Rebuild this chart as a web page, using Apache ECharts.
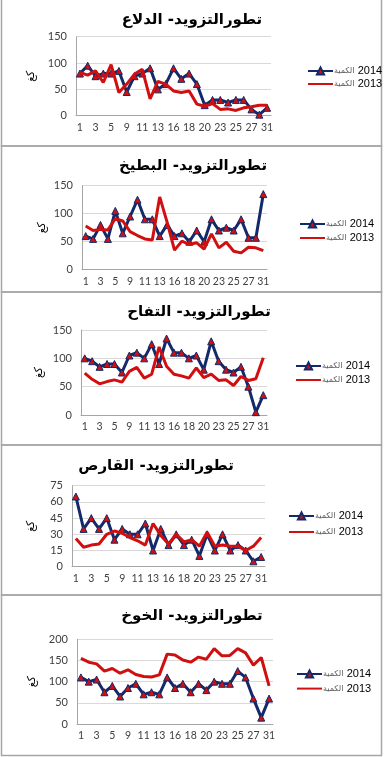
<!DOCTYPE html>
<html><head><meta charset="utf-8">
<script src="https://cdn.jsdelivr.net/npm/echarts@6/dist/echarts.min.js"></script>
<style>html,body{margin:0;padding:0;background:#fff}#c{width:385px;height:757px}</style>
</head><body><div id="c"></div>
<script>
const categories = ['1','2','3','4','5','7','9','10','11','12','13','14','16','17','18','19','20','21','23','24','25','26','27','29','31'];
const titles = ['تطورالتزويد- الدلاع','تطورالتزويد- البطيخ','تطورالتزويد- التفاح','تطورالتزويد- القارص','تطورالتزويد- الخوخ'];
const seriesNames = ['الكمية 2014','الكمية 2013'];
const yUnit = 'كغ';
const yMax = [150,150,150,75,200];
const yInterval = [50,50,50,15,50];

const dala2014 = [80,95,75,80,80,85,45,75,80,90,50,60,90,70,80,60,20,30,30,25,30,30,12,2,15];
const dala2013 = [82,77,85,63,97,44,60,79,88,32,65,60,47,44,47,22,18,23,12,13,10,15,17,20,20];
const batikh2014 = [60,55,80,55,105,65,95,125,90,90,60,80,60,65,50,70,50,90,70,75,70,90,57,57,135];
const batikh2013 = [78,70,72,71,91,87,68,61,55,53,130,85,35,51,45,48,37,64,39,49,33,30,40,39,34];
const tuffah2014 = [100,95,85,90,90,75,105,110,100,125,90,135,110,110,100,105,80,130,95,80,75,85,50,5,35];
const tuffah2013 = [74,63,55,59,62,58,77,84,65,72,120,86,72,69,65,83,66,72,61,62,52,68,61,64,101];
const qaris2014 = [65,35,45,35,45,25,35,30,30,40,15,35,20,30,20,25,10,30,15,30,15,20,15,5,9];
const qaris2013 = [26,18,20,21,30,33,31,27,24,20,40,29,21,30,23,25,19,32,19,20,19,19,15,19,27];
const khukh2014 = [110,100,105,75,90,65,85,95,70,75,70,110,85,95,75,95,80,100,95,95,125,110,60,15,60];
const khukh2013 = [155,146,142,125,131,120,128,117,112,111,116,165,163,151,146,158,153,178,161,162,178,168,139,157,90];

const data2014 = [dala2014,batikh2014,tuffah2014,qaris2014,khukh2014];
const data2013 = [dala2013,batikh2013,tuffah2013,qaris2013,khukh2013];

// layout (pixels)
const grids = [
  {left:76, top:36.7, width:195, height:79},
  {left:82, top:185.7, width:185, height:84},
  {left:81, top:330, width:186, height:85},
  {left:72, top:485.7, width:193, height:81},
  {left:77, top:639.3, width:196, height:84.7}
];
const nameGaps = [33,34,36,35,35];
const legendPos = [
  {left:307, top:65, gap:11},
  {left:299, top:218, gap:12},
  {left:295, top:360, gap:12},
  {left:288, top:510, gap:14},
  {left:296, top:668, gap:12.6}
];
const titlePos = [{x:192,y:20},{x:193,y:166},{x:199,y:312},{x:156,y:466},{x:192,y:616}];
const panels = [[-2,146],[146,292],[292,445],[445,595],[595,755.5]];

const BLUE = '#12296a', RED = '#d01010';
const numFont = 'Lato, "Open Sans", Arial, sans-serif';

const option = {
  animation:false,
  backgroundColor:'#fff',
  grid: grids.map(g => Object.assign({containLabel:false}, g)),
  xAxis: grids.map((g,i)=>({
    type:'category', gridIndex:i, data:categories, boundaryGap:true,
    axisLine:{show:true, lineStyle:{color:'#a6a6a6', width:1}},
    axisTick:{show:false},
    axisLabel:{interval:1, color:'#404040', fontSize:10.5, fontFamily:numFont, margin:6},
    splitLine:{show:false}
  })),
  yAxis: grids.map((g,i)=>({
    type:'value', gridIndex:i, min:0, max:yMax[i], interval:yInterval[i],
    name:yUnit, nameLocation:'middle', nameGap:nameGaps[i], nameRotate:90,
    nameTextStyle:{color:'#000', fontSize:11, fontFamily:'"DejaVu Sans", sans-serif'},
    axisLine:{show:true, lineStyle:{color:'#a6a6a6', width:1}},
    axisTick:{show:false},
    axisLabel:{color:'#404040', fontSize:11, fontFamily:numFont, margin:9},
    splitLine:{show:true, lineStyle:{color:'#d9d9d9', width:1}}
  })),
  legend: legendPos.map((p,i)=>({
    orient:'vertical', left:p.left, top:p.top, itemGap:p.gap - 10,
    itemWidth:25, itemHeight:9, padding:0,
    data: [
      {name:seriesNames[0]},
      {name:seriesNames[1], itemStyle:{opacity:0}}
    ],
    selectedMode:false,
    formatter: function(name){ const parts = name.split(' '); return '{a|' + parts[0] + '} {b|' + parts[1] + '}'; },
    textStyle:{
      padding:[0,0,0,-4],
      rich:{
        a:{fontSize:8, color:'#595959', fontFamily:'"DejaVu Sans", sans-serif', lineHeight:10},
        b:{fontSize:11, color:'#000', fontFamily:'Arial, "Liberation Sans", sans-serif', lineHeight:10}
      }
    }
  })),
  graphic: [].concat(
    panels.map(p=>({type:'rect', silent:true, z:-1, shape:{x:1.5, y:p[0], width:380, height:p[1]-p[0]}, style:{fill:'none', stroke:'#a6a6a6', lineWidth:1.5}})),
    titlePos.map((t,i)=>({type:'text', silent:true, x:t.x, y:t.y, style:{text:titles[i], fill:'#000', font:'bold 15px "DejaVu Sans", Arial, sans-serif', textAlign:'center', textVerticalAlign:'middle'}}))
  ),
  series: []
};
for (let i=0;i<5;i++){
  option.series.push({
    name:seriesNames[0], type:'line', xAxisIndex:i, yAxisIndex:i, data:data2014[i],
    lineStyle:{color:BLUE, width:3}, itemStyle:{color:RED, borderColor:BLUE, borderWidth:1},
    symbol:'triangle', symbolSize:7, showAllSymbol:true, z:2
  });
  option.series.push({
    name:seriesNames[1], type:'line', xAxisIndex:i, yAxisIndex:i, data:data2013[i],
    lineStyle:{color:RED, width:3}, itemStyle:{color:RED}, symbol:'none', showSymbol:false, z:3
  });
}
const chart = echarts.init(document.getElementById('c'), null, {renderer:'canvas'});
chart.setOption(option);
</script></body></html>
